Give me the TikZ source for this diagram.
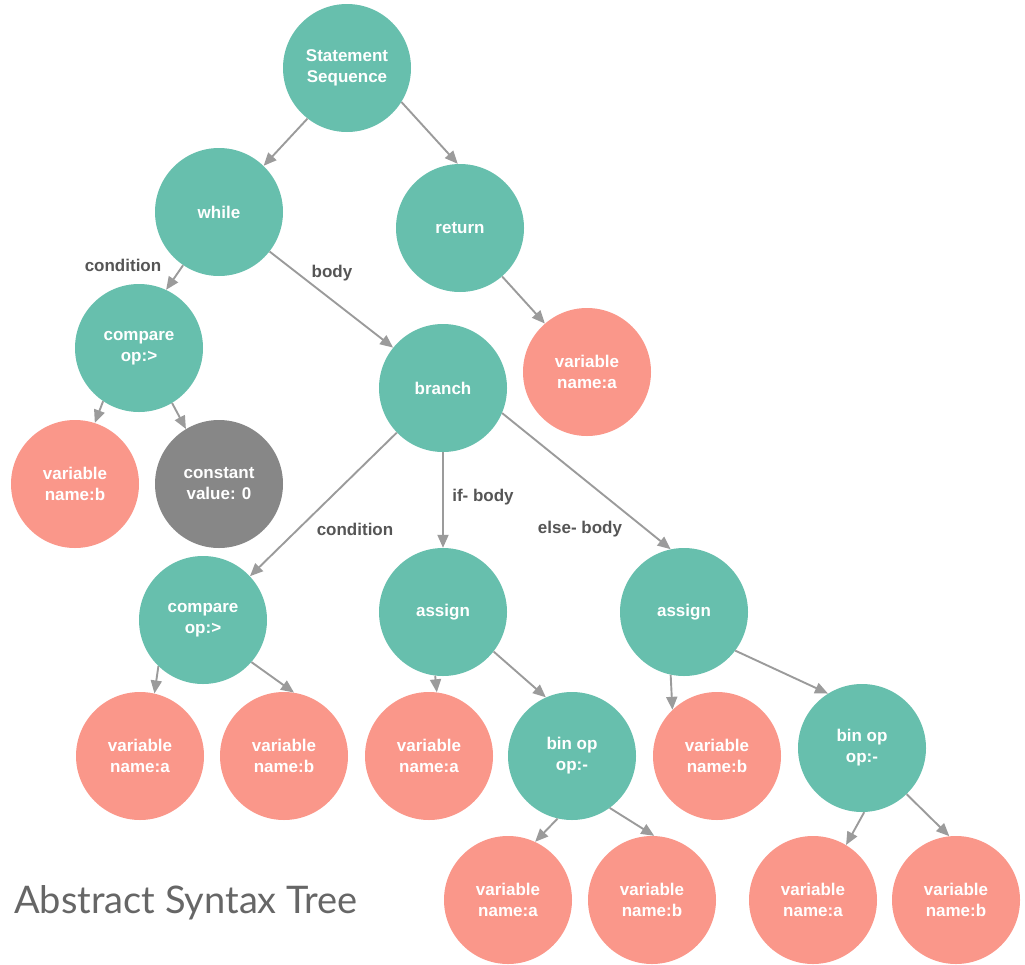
\documentclass[tikz,border=0pt]{standalone}
\usepackage{fontspec}
\setmainfont{Liberation Sans}
\newfontfamily\titlefont{Lato}
\usetikzlibrary{arrows.meta}
\definecolor{teal1}{HTML}{67BFAD}
\definecolor{salmon1}{HTML}{FA978A}
\definecolor{gray1}{HTML}{878787}
\definecolor{arrgray}{HTML}{9B9B9B}
\definecolor{lblgray}{HTML}{555555}
\definecolor{titlegray}{HTML}{666666}
\tikzset{
  circ/.style={circle, minimum size=128pt, inner sep=0pt, text=white, align=center,
    font=\bfseries\fontsize{17}{21}\selectfont},
  tnode/.style={circ, fill=teal1},
  vnode/.style={circ, fill=salmon1},
  cnode/.style={circ, fill=gray1},
  arr/.style={draw=arrgray, line width=1.9pt, -{Triangle[length=13pt,width=11pt]}},
  lbl/.style={text=lblgray, font=\bfseries\fontsize{17}{21}\selectfont, inner sep=0pt},
}
\begin{document}
\begin{tikzpicture}[x=1pt,y=-1pt]
\useasboundingbox (0,0) rectangle (1025,964);
\node[tnode] (ss) at (347,68) {Statement\\Sequence};
\node[tnode] (wh) at (219,212) {while};
\node[tnode] (ret) at (460,228) {return};
\node[tnode] (cmp1) at (139,348) {compare\\op:>};
\node[tnode] (br) at (443,388) {branch};
\node[vnode] (va0) at (587,372) {variable\\name:a};
\node[vnode] (vb1) at (75,484) {variable\\name:b};
\node[cnode] (c0) at (219,484) {constant\\value: 0};
\node[tnode] (cmp2) at (203,620) {compare\\op:>};
\node[tnode] (as1) at (443,612) {assign};
\node[tnode] (as2) at (684,612) {assign};
\node[vnode] (va2) at (140,756) {variable\\name:a};
\node[vnode] (vb2) at (284,756) {variable\\name:b};
\node[vnode] (va3) at (429,756) {variable\\name:a};
\node[tnode] (bo1) at (572,756) {bin op\\op:-};
\node[vnode] (vb3) at (717,756) {variable\\name:b};
\node[tnode] (bo2) at (862,748) {bin op\\op:-};
\node[vnode] (la) at (508,900) {variable\\name:a};
\node[vnode] (lb) at (652,900) {variable\\name:b};
\node[vnode] (lc) at (813,900) {variable\\name:a};
\node[vnode] (ld) at (956,900) {variable\\name:b};

\draw[arr] (ss.232) -- (wh.46);
\draw[arr] (ss.-32) -- (ret.92);
\draw[arr] (wh.236) -- (cmp1.65);
\draw[arr] (wh.-38) -- (br.141);
\draw[arr] (ret.-49) -- (va0.131);
\draw[arr] (cmp1.236) -- (vb1.72);
\draw[arr] (cmp1.-59) -- (c0.121);
\draw[arr] (br.224) -- (cmp2.43);
\draw[arr] (br.270) -- (as1.90);
\draw[arr] (br.-23) -- (as2.102);
\draw[arr] (cmp2.226) -- (va2.77);
\draw[arr] (cmp2.-41) -- (vb2.81);
\draw[arr] (as1.263) -- (va3.83);
\draw[arr] (as1.-38) -- (bo1.114);
\draw[arr] (as2.258) -- (vb3.134);
\draw[arr] (as2.-37) -- (bo2.122);
\draw[arr] (bo1.257) -- (la.65);
\draw[arr] (bo1.-54) -- (lb.88);
\draw[arr] (bo2.272) -- (lc.59);
\draw[arr] (bo2.-46) -- (ld.96);

\node[lbl] (l1) at (123,265) {condition};
\node[lbl] (l2) at (332,273) {body};
\node[lbl] (l3) at (355,529) {condition};
\node[lbl] (l4) at (483,497) {if- body};
\node[lbl] (l5) at (580,529) {else- body};
\node[anchor=base west, inner sep=0pt, text=titlegray, font=\titlefont\fontsize{38}{45}\selectfont] (title) at (14,913) {Abstract Syntax Tree};
\end{tikzpicture}
\end{document}
